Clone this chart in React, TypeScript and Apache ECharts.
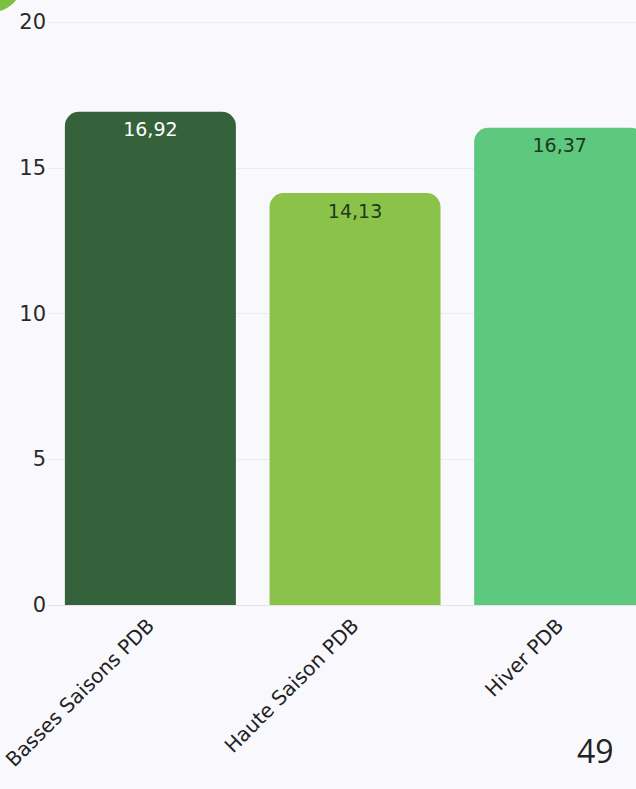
import React, { useEffect, useRef } from "react";
import * as echarts from "echarts";

const categories = ["Basses Saisons PDB", "Haute Saison PDB", "Hiver PDB"];
const values = [16.92, 14.13, 16.37];
const barColors = ["#35623a", "#8bc34a", "#5ec87f"];
const labelColors = ["#ffffff", "#1d3a20", "#1d3a20"];
const yTicks = { min: 0, max: 20, interval: 5 };
const pageNumber = "49";

export default function App() {
  const ref = useRef<HTMLDivElement>(null);
  useEffect(() => {
    if (!ref.current) return;
    const chart = echarts.init(ref.current, null, { renderer: "svg" });
    chart.setOption({
      animation: false,
      backgroundColor: "#f9f9fd",
      textStyle: { fontFamily: "DejaVu Sans" },
      grid: { left: 48, right: 0, top: 22, bottom: 184, containLabel: false },
      xAxis: {
        type: "category",
        data: categories,
        axisTick: { show: false },
        axisLine: { show: true, lineStyle: { color: "#e3e3e8", width: 1 } },
        axisLabel: {
          rotate: 45,
          interval: 0,
          fontSize: 20,
          color: "#222",
          margin: 17,
          fontFamily: "DejaVu Sans",
        },
      },
      yAxis: {
        type: "value",
        min: yTicks.min,
        max: yTicks.max,
        interval: yTicks.interval,
        axisLabel: { fontSize: 21, color: "#2a2a2a", margin: 2, fontFamily: "DejaVu Sans" },
        splitLine: { lineStyle: { color: "#ebebf0", width: 1 } },
        axisLine: { show: false },
        axisTick: { show: false },
      },
      series: [
        {
          type: "bar",
          barWidth: 171,
          data: values.map((v, i) => ({
            value: v,
            itemStyle: { color: barColors[i], borderRadius: [14, 14, 0, 0] },
            label: { color: labelColors[i] },
          })),
          label: {
            show: true,
            position: "insideTop",
            distance: 8,
            fontSize: 19,
            fontFamily: "DejaVu Sans",
            formatter: (p: any) => String(p.value).replace(".", ","),
          },
        },
      ],
      graphic: [
        {
          type: "circle",
          shape: { cx: -8, cy: -18, r: 30 },
          style: { fill: "#7cc043" },
        },
        {
          type: "text",
          left: 577,
          top: 734,
          style: { text: pageNumber, fontSize: 32, fill: "#222", fontFamily: "Open Sans" },
        },
      ],
    });
    return () => chart.dispose();
  }, []);
  return (
    <div style={{ position: "fixed", left: 0, top: 0, width: 636, height: 789, overflow: "hidden" }}>
      <div ref={ref} style={{ width: 662, height: 789 }} />
    </div>
  );
}
